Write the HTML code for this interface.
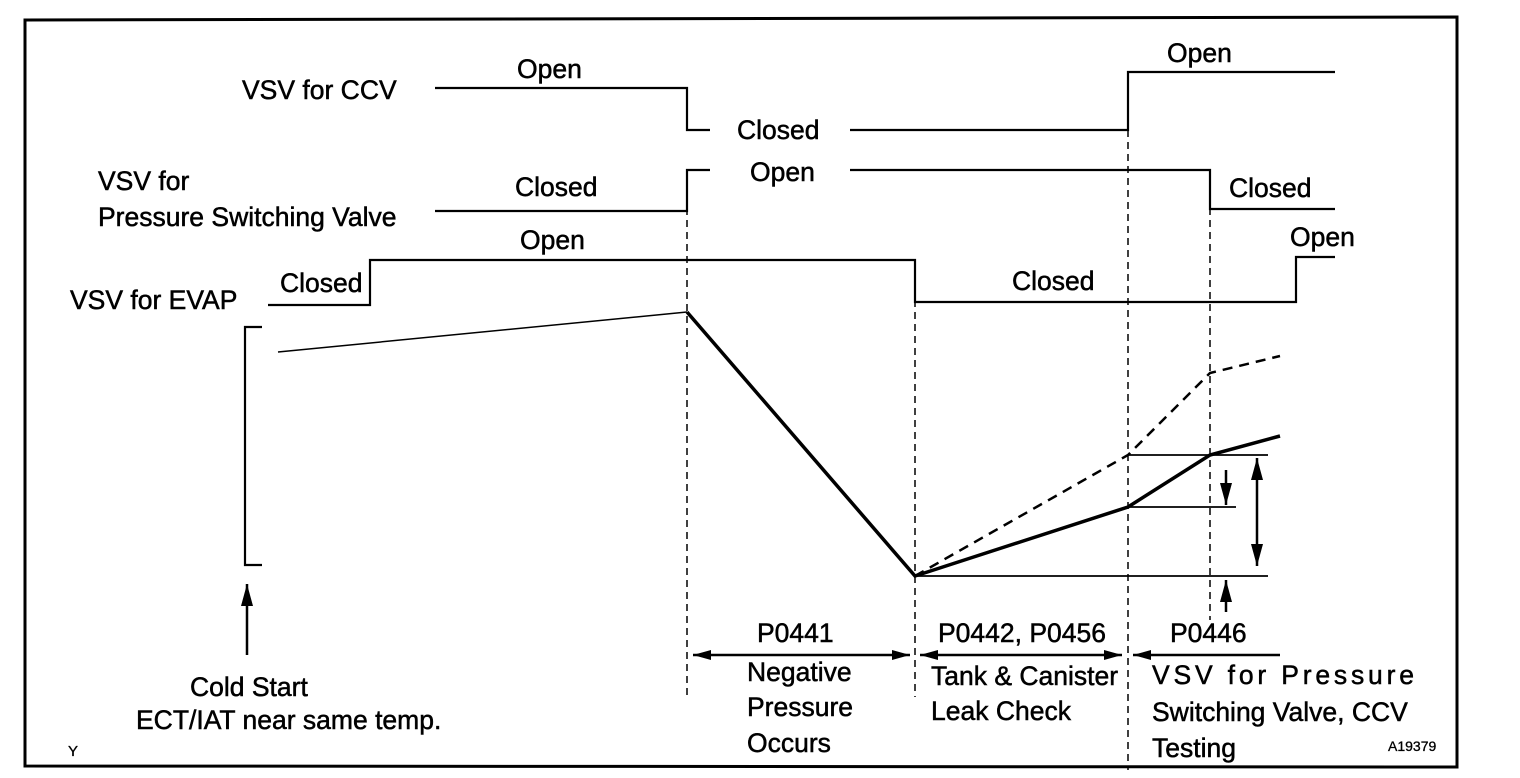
<!DOCTYPE html>
<html><head><meta charset="utf-8"><style>
html,body{margin:0;padding:0;background:#fff;}
svg{display:block;}
text{font-family:"Liberation Sans",Arial,sans-serif;font-size:26.5px;fill:#000;stroke:#000;stroke-width:0.5;}
</style></head><body>
<svg width="1520" height="778" viewBox="0 0 1520 778" xmlns="http://www.w3.org/2000/svg">
<defs>
<marker id="ah" viewBox="0 0 10 10" refX="10" refY="5" markerWidth="18" markerHeight="10" markerUnits="userSpaceOnUse" orient="auto-start-reverse" preserveAspectRatio="none"><path d="M0,0 L10,5 L0,10 Z" fill="#000"/></marker>
<marker id="av" viewBox="0 0 10 10" refX="10" refY="5" markerWidth="22" markerHeight="12" markerUnits="userSpaceOnUse" orient="auto-start-reverse" preserveAspectRatio="none"><path d="M0,0 L10,5 L0,10 Z" fill="#000"/></marker>
</defs>
<g fill="none" stroke="#000">
<path d="M25,20 L1457,17 L1457,767 L25,766 Z" stroke-width="3"/>
<g stroke-dasharray="7,5" stroke-width="1.5">
<line x1="687" y1="172" x2="687" y2="697"/>
<line x1="915" y1="300" x2="915" y2="697"/>
<line x1="1128" y1="130" x2="1128" y2="770"/>
<line x1="1210" y1="172" x2="1210" y2="620"/>
</g>
<g stroke-width="2.2">
<polyline points="435,88 687,88 687,130 710,130"/>
<polyline points="850,130 1128,130 1128,72 1335,72"/>
<polyline points="435,211 687,211 687,170 710,170"/>
<polyline points="850,170 1210,170 1210,209 1335,209"/>
<polyline points="268,305 370,305 370,260 915,260 915,302 1296,302 1296,257 1335,257"/>
<polyline points="262,327 245,327 245,565 262,565"/>
</g>
<line x1="278" y1="352" x2="687" y2="312" stroke-width="1.5"/>
<polyline points="687,312 915,576 1128,507 1210,455 1280,436" stroke-width="3.5"/>
<polyline points="915,576 1128,455 1210,373 1280,356" stroke-width="2.5" stroke-dasharray="10,7"/>
<g stroke-width="1.7">
<line x1="1128" y1="455" x2="1268" y2="455"/>
<line x1="1128" y1="507" x2="1236" y2="507"/>
<line x1="915" y1="576" x2="1268" y2="576"/>
</g>
<g stroke-width="2.5">
<line x1="1226" y1="470" x2="1226" y2="505" marker-end="url(#av)"/>
<line x1="1257" y1="458" x2="1257" y2="566" marker-start="url(#av)" marker-end="url(#av)"/>
<line x1="1226" y1="612" x2="1226" y2="580" marker-end="url(#av)"/>
<line x1="247" y1="655" x2="247" y2="584" marker-end="url(#av)"/>
<line x1="693" y1="655" x2="910" y2="655" marker-start="url(#ah)" marker-end="url(#ah)"/>
<line x1="920" y1="655" x2="1122" y2="655" marker-start="url(#ah)" marker-end="url(#ah)"/>
<line x1="1133" y1="655" x2="1280" y2="655" marker-start="url(#ah)"/>
</g>
</g>
<text x="242" y="99">VSV for CCV</text>
<text x="517" y="78">Open</text>
<text x="737" y="139">Closed</text>
<text x="1167" y="62">Open</text>
<text x="98" y="190">VSV for</text>
<text x="98" y="226">Pressure Switching Valve</text>
<text x="515" y="196">Closed</text>
<text x="750" y="181">Open</text>
<text x="1229" y="197">Closed</text>
<text x="70" y="309">VSV for EVAP</text>
<text x="280" y="292">Closed</text>
<text x="520" y="249">Open</text>
<text x="1012" y="290">Closed</text>
<text x="1290" y="246">Open</text>
<text x="190" y="696">Cold Start</text>
<text x="136" y="729">ECT/IAT near same temp.</text>
<text x="757" y="642">P0441</text>
<text x="747" y="681">Negative</text>
<text x="747" y="716">Pressure</text>
<text x="747" y="752">Occurs</text>
<text x="938" y="642">P0442, P0456</text>
<text x="931" y="685">Tank &amp; Canister</text>
<text x="931" y="720">Leak Check</text>
<text x="1170" y="642">P0446</text>
<text x="1152" y="684" textLength="262">VSV for Pressure</text>
<text x="1152" y="721">Switching Valve, CCV</text>
<text x="1152" y="757">Testing</text>
<text x="68" y="756" style="font-size:15px;stroke-width:0.3">Y</text>
<text x="1388" y="751" style="font-size:14px;stroke-width:0.3">A19379</text>
</svg>
</body></html>
